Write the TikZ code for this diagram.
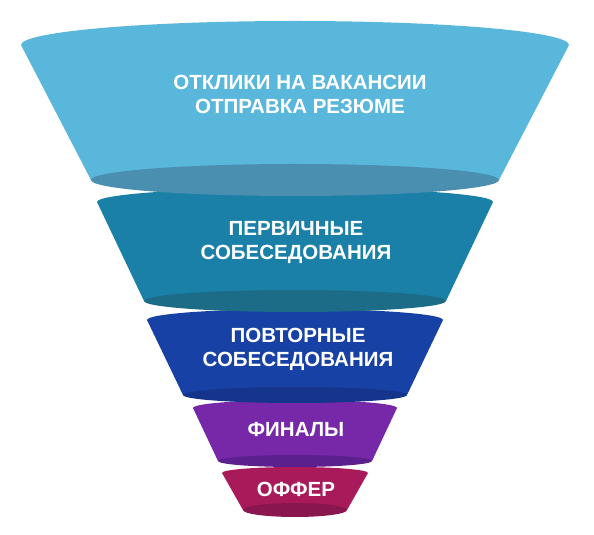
\documentclass[tikz,border=0pt]{standalone}
\usepackage{fontspec}
\setmainfont{Liberation Sans}
\usepackage{tikz}
\definecolor{otkliki}{HTML}{5AB7DC}
\definecolor{otklikiD}{HTML}{4B8FB0}
\definecolor{pervich}{HTML}{1B80A8}
\definecolor{pervichD}{HTML}{1C6C88}
\definecolor{povtor}{HTML}{1741A4}
\definecolor{povtorD}{HTML}{15348C}
\definecolor{final}{HTML}{7628A8}
\definecolor{finalD}{HTML}{5B1F8E}
\definecolor{offer}{HTML}{A81A5A}
\definecolor{offerD}{HTML}{8A1650}

\begin{document}
\begin{tikzpicture}[x=1pt, y=1pt,
  stage/.style={text=white, font=\bfseries\fontsize{20.5}{24}\selectfont, align=center}]
  \useasboundingbox (0,0) rectangle (594,535);
  % layers from the bottom up: top y / top rx / top ry / bottom y / bottom rx / bottom ry / colours
  \foreach \yt/\rt/\at/\yb/\rb/\ab/\cb/\cd in {
    62/73/6/25/52/7/offer/offerD,
    127/102/8/74/77/6/final/finalD,
    215/148/11/140/112/8/povtor/povtorD,
    333/198/14/234/151/11/pervich/pervichD,
    490/274/24/355/204/16/otkliki/otklikiD}
  {
    \fill[\cb] (295-\rt,\yt) arc[start angle=180, end angle=0, x radius=\rt, y radius=\at]
      -- (295+\rb,\yb) -- (295-\rb,\yb) -- cycle;
    \fill[\cd] (295,\yb) ellipse[x radius=\rb, y radius=\ab];
  }
  \node[stage] (s1) at (300,441) {ОТКЛИКИ НА ВАКАНСИИ\\ОТПРАВКА РЕЗЮМЕ};
  \node[stage] (s2) at (296,293) {ПЕРВИЧНЫЕ\\СОБЕСЕДОВАНИЯ};
  \node[stage] (s3) at (298,186) {ПОВТОРНЫЕ\\СОБЕСЕДОВАНИЯ};
  \node[stage] (s4) at (296,106) {ФИНАЛЫ};
  \node[stage] (s5) at (296,45.5) {ОФФЕР};
\end{tikzpicture}
\end{document}
